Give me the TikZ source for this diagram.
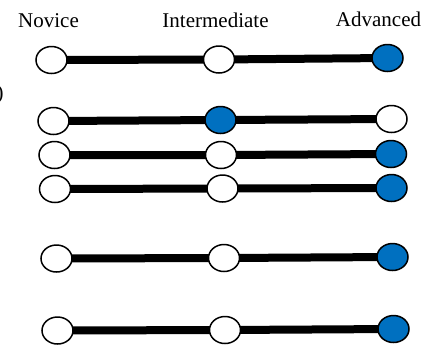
\documentclass[tikz,border=0pt]{standalone}
\usepackage{fontspec}
\setmainfont{Liberation Serif}
\usepackage{xcolor}
\usetikzlibrary{shapes.geometric,backgrounds}
\definecolor{levelBlue}{HTML}{0070C0}
\tikzset{
lvl/.style = {ellipse, draw=black, line width=0.75pt, fill=#1,
              minimum width=15.5pt, minimum height=13.5pt,
              inner sep=0pt, outer sep=0pt},
lvl/.default = white
}
\tikzset{
bar/.style = {line width=4pt}
}
\tikzset{
head/.style = {anchor=base, inner sep=0pt, font=\fontsize{10.5}{12.6}\selectfont}
}

\begin{document}
\begin{tikzpicture}[x=0.5pt, y=-0.5pt]
    \useasboundingbox (0,0) rectangle (438,345);

    \node[head] (noviceLbl) at (48.5,27) {Novice};
    \node[head] (interLbl) at (215.5,27) {Intermediate};
    \node[head] (advLbl) at (378.5,26) {Advanced};
    \node[head, anchor=east] (paren) at (4,94) {)};

    \node[lvl] (nov1) at (51.5,60) {};
    \node[lvl] (int1) at (219,59.5) {};
    \node[lvl=levelBlue] (adv1) at (387.5,58) {};

    \node[lvl] (nov2) at (53.5,121) {};
    \node[lvl=levelBlue] (int2) at (220.5,120) {};
    \node[lvl] (adv2) at (391.5,119) {};

    \node[lvl] (nov3) at (54.5,155) {};
    \node[lvl] (int3) at (221,155) {};
    \node[lvl=levelBlue] (adv3) at (391,154) {};

    \node[lvl] (nov4) at (55,189) {};
    \node[lvl] (int4) at (222.5,188.5) {};
    \node[lvl=levelBlue] (adv4) at (391.5,188) {};

    \node[lvl] (nov5) at (56.5,258.5) {};
    \node[lvl] (int5) at (224,258) {};
    \node[lvl=levelBlue] (adv5) at (392.5,257) {};

    \node[lvl] (nov6) at (57.5,330.5) {};
    \node[lvl] (int6) at (225,330) {};
    \node[lvl=levelBlue] (adv6) at (393.5,329) {};

    \begin{pgfonlayer}{background}
    \draw[bar] (nov1.center) -- (int1.center) -- (adv1.center);
    \draw[bar] (nov2.center) -- (int2.center) -- (adv2.center);
    \draw[bar] (nov3.center) -- (int3.center) -- (adv3.center);
    \draw[bar] (nov4.center) -- (int4.center) -- (adv4.center);
    \draw[bar] (nov5.center) -- (int5.center) -- (adv5.center);
    \draw[bar] (nov6.center) -- (int6.center) -- (adv6.center);
    \end{pgfonlayer}
\end{tikzpicture}
\end{document}
